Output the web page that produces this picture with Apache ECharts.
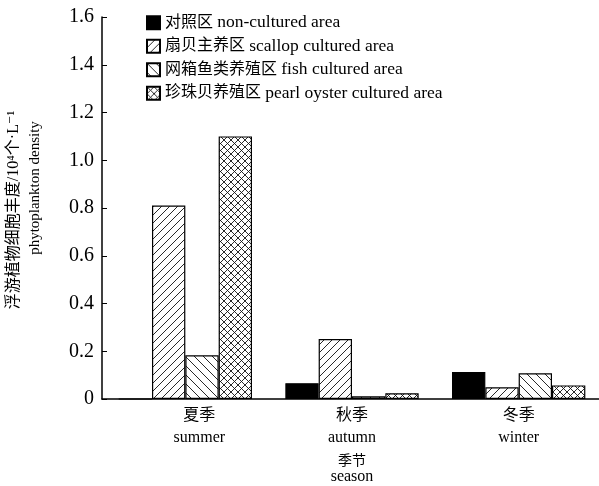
<!DOCTYPE html>
<html>
<head>
<meta charset="utf-8">
<script src="https://cdn.jsdelivr.net/npm/echarts@6/dist/echarts.min.js"></script>
<style>
  html, body { margin: 0; padding: 0; background: #fff; }
  #main { width: 599px; height: 486px; }
</style>
</head>
<body>
<div id="main"></div>
<script>
// 数据
var seasonsCn = ['夏季', '秋季', '冬季'];
var seasonsEn = ['summer', 'autumn', 'winter'];
var seriesNames = [
    '对照区 non-cultured area',
    '扇贝主养区 scallop cultured area',
    '网箱鱼类养殖区 fish cultured area',
    '珍珠贝养殖区 pearl oyster cultured area'
];
var controlVals = [0, 0.066, 0.113];
var scallopVals = [0.81, 0.251, 0.049];
var fishVals = [0.183, 0.011, 0.108];
var pearlVals = [1.10, 0.024, 0.057];

var FONT = '"Liberation Serif", "DejaVu Serif", "Noto Sans CJK SC", serif';

// 斜线填充
function hatch(kind, size) {
    var c = document.createElement('canvas');
    c.width = size; c.height = size;
    var ctx = c.getContext('2d');
    ctx.fillStyle = '#fff';
    ctx.fillRect(0, 0, size, size);
    ctx.strokeStyle = '#111';
    ctx.lineWidth = 0.9;
    function slash() {
        ctx.beginPath();
        ctx.moveTo(-1, size + 1); ctx.lineTo(size + 1, -1);
        ctx.moveTo(-1, 1); ctx.lineTo(1, -1);
        ctx.moveTo(size - 1, size + 1); ctx.lineTo(size + 1, size - 1);
        ctx.stroke();
    }
    function back() {
        ctx.beginPath();
        ctx.moveTo(-1, -1); ctx.lineTo(size + 1, size + 1);
        ctx.moveTo(size - 1, -1); ctx.lineTo(size + 1, 1);
        ctx.moveTo(-1, size - 1); ctx.lineTo(1, size + 1);
        ctx.stroke();
    }
    if (kind === 'slash') slash();
    if (kind === 'back') back();
    if (kind === 'cross') { slash(); back(); }
    return { image: c, repeat: 'repeat' };
}

var fills = ['#000', hatch('slash', 8), hatch('back', 9), hatch('cross', 7)];
var datas = [controlVals, scallopVals, fishVals, pearlVals];

var series = datas.map(function (d, i) {
    return {
        name: seriesNames[i],
        type: 'bar',
        data: d,
        barGap: '0%',
        barCategoryGap: '20%',
        itemStyle: {
            color: fills[i],
            borderColor: '#000',
            borderWidth: 1.2
        }
    };
});

var myChart = echarts.init(document.getElementById('main'));
var option = {
    animation: false,
    grid: { left: 102, top: 17, width: 500, bottom: 87, outerBoundsMode: 'none', containLabel: false },
    legend: {
        orient: 'vertical',
        left: 146,
        top: 14,
        padding: 0,
        itemWidth: 13,
        itemHeight: 13,
        itemGap: 6,
        icon: 'rect',
        formatter: function (name) {
            var k = name.indexOf(' ');
            return '{cn|' + name.slice(0, k) + '} {en|' + name.slice(k + 1) + '}';
        },
        textStyle: {
            fontFamily: FONT, fontSize: 17, color: '#000', lineHeight: 16,
            rich: {
                cn: { fontFamily: FONT, fontSize: 16, color: '#000', lineHeight: 16 },
                en: { fontFamily: FONT, fontSize: 17.5, color: '#000', lineHeight: 16 }
            }
        },
        data: seriesNames
    },
    xAxis: {
        type: 'category',
        data: seasonsCn,
        axisLine: { lineStyle: { color: '#000', width: 1.5 } },
        axisTick: { show: false },
        axisLabel: {
            margin: 6,
            formatter: function (v, idx) {
                // 夏季标签居中于三根柱子下方
                var s = idx === 0 ? 'S' : '';
                return '{cn' + s + '|' + v + '}\n{en' + s + '|' + seasonsEn[idx] + '}';
            },
            rich: {
                cn: { fontFamily: FONT, fontSize: 16, color: '#000', lineHeight: 22 },
                en: { fontFamily: FONT, fontSize: 16, color: '#000', lineHeight: 22 },
                cnS: { fontFamily: FONT, fontSize: 16, color: '#000', lineHeight: 22, padding: [0, 0, 0, 28] },
                enS: { fontFamily: FONT, fontSize: 16, color: '#000', lineHeight: 22, padding: [0, 0, 0, 28] }
            }
        },
        name: '{cn|季节}\n{en|season}',
        nameLocation: 'middle',
        nameGap: 54,
        nameTextStyle: {
            rich: {
                cn: { fontFamily: FONT, fontSize: 14, color: '#000', lineHeight: 16 },
                en: { fontFamily: FONT, fontSize: 16, color: '#000', lineHeight: 16 }
            }
        }
    },
    yAxis: {
        type: 'value',
        min: 0,
        max: 1.6,
        interval: 0.2,
        splitLine: { show: false },
        axisLine: { show: true, lineStyle: { color: '#000', width: 1.5 } },
        axisTick: { show: true, inside: true, length: 5, lineStyle: { color: '#000' } },
        axisLabel: {
            margin: 8,
            fontFamily: FONT,
            fontSize: 20,
            color: '#000',
            formatter: function (v) {
                return v === 0 ? '0' : v.toFixed(1);
            }
        }
    },
    graphic: [
        {
            type: 'text',
            x: 14, y: 210,
            rotation: Math.PI / 2,
            style: {
                text: '浮游植物细胞丰度/10⁴个·L⁻¹',
                font: '16px ' + FONT,
                fill: '#000',
                align: 'center',
                verticalAlign: 'middle'
            }
        },
        {
            type: 'text',
            x: 35, y: 188,
            rotation: Math.PI / 2,
            style: {
                text: 'phytoplankton density',
                font: '15px ' + FONT,
                fill: '#000',
                align: 'center',
                verticalAlign: 'middle'
            }
        }
    ],
    series: series
};
myChart.setOption(option);
</script>
</body>
</html>
